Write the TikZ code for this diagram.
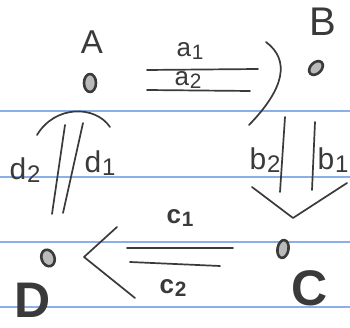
\documentclass[tikz,border=0pt]{standalone}
\usepackage{fontspec}
\setmainfont{Liberation Sans}
\usetikzlibrary{shapes.geometric}
\definecolor{ink}{HTML}{3A3A3A}
\definecolor{ruling}{HTML}{8AB0E6}
\newcommand{\sublab}[2]{#1\kern0.03em\raisebox{-0.12em}{\scalebox{0.8}{#2}}}
\begin{document}
\begin{tikzpicture}[x=1pt,y=-1pt, line cap=round, line join=round,
  pen/.style={draw=ink, line width=1.7pt},
  dot/.style={ellipse, draw=ink, fill=ink!35, line width=2.6pt, inner sep=0pt},
  lbl/.style={text=ink, inner sep=0pt, font=\fontsize{26}{26}\selectfont},
  tall/.style={text=ink, inner sep=0pt, font=\fontsize{30}{30}\selectfont},
  bold/.style={text=ink, inner sep=0pt, font=\fontsize{26}{26}\selectfont\bfseries},
  big/.style={text=ink, inner sep=0pt, font=\fontsize{33}{33}\selectfont},
  huge/.style={text=ink, inner sep=0pt, font=\fontsize{50}{50}\selectfont\bfseries}]
\useasboundingbox[fill=white] (0,0) rectangle (350,328);
\clip (0,0) rectangle (350,328);
% ruled paper lines
\foreach \yy in {111,177,242,307}
  \draw[ruling, line width=1.2pt] (0,\yy) -- (350,\yy);
% vertices
\node[dot, minimum width=12pt, minimum height=18pt] (A) at (90,83) {};
\node[dot, minimum width=11pt, minimum height=16pt, rotate=-45] (B) at (316,68) {};
\node[dot, minimum width=11pt, minimum height=18pt, rotate=-10] (C) at (283,249) {};
\node[dot, minimum width=13pt, minimum height=17pt, rotate=20] (D) at (48,258) {};
% vertex labels
\node[big] (Alab) at (92,42) {A};
\node[big, font=\fontsize{40}{40}\selectfont] (Blab) at (323,22) {B};
\node[huge] (Clab) at (310,288) {C};
\node[huge] (Dlab) at (33,300) {D};
% edge end points
\coordinate (a1s) at (147,70); \coordinate (a1e) at (258,69);
\coordinate (a2s) at (147,90); \coordinate (a2e) at (250,91);
\coordinate (b2s) at (285,117); \coordinate (b2e) at (280,192);
\coordinate (b1s) at (315,122); \coordinate (b1e) at (312,190);
\coordinate (c1s) at (233,248); \coordinate (c1e) at (127,248);
\coordinate (c2s) at (220,266); \coordinate (c2e) at (130,262);
\coordinate (d1s) at (63,213); \coordinate (d1e) at (83,123);
\coordinate (d2s) at (52,214); \coordinate (d2e) at (65,125);
% edges
\draw[pen] (a1s) -- (a1e);
\draw[pen] (a2s) -- (a2e);
\draw[pen] (b1s) -- (b1e);
\draw[pen] (b2s) -- (b2e);
\draw[pen] (c1s) -- (c1e);
\draw[pen] (c2s) -- (c2e);
\draw[pen] (d1s) -- (d1e);
\draw[pen] (d2s) -- (d2e);
% hand-drawn arrow heads
\coordinate (ha1) at (266,42); \coordinate (ha2) at (249,125);
\draw[pen] (ha1) .. controls (290,60) and (285,88) .. (ha2);
\coordinate (hb1) at (252,187); \coordinate (hb2) at (293,218); \coordinate (hb3) at (347,183);
\draw[pen] (hb1) -- (hb2) -- (hb3);
\coordinate (hc1) at (117,227); \coordinate (hc2) at (84,257); \coordinate (hc3) at (135,298);
\draw[pen] (hc1) -- (hc2) -- (hc3);
\coordinate (hd1) at (37,135); \coordinate (hd2) at (110,127);
\draw[pen] (hd1) .. controls (55,105) and (95,105) .. (hd2);
% edge labels
\node[lbl] (la1) at (190,51) {\sublab{a}{1}};
\node[lbl] (la2) at (188,80) {\sublab{a}{2}};
\node[tall] (lb2) at (265,160) {\sublab{b}{2}};
\node[tall] (lb1) at (333,160) {\sublab{b}{1}};
\node[bold] (lc1) at (180,218) {\sublab{c}{1}};
\node[bold] (lc2) at (173,288) {\sublab{c}{2}};
\node[tall] (ld2) at (25,170) {\sublab{d}{2}};
\node[tall] (ld1) at (100,163) {\sublab{d}{1}};
\end{tikzpicture}
\end{document}
